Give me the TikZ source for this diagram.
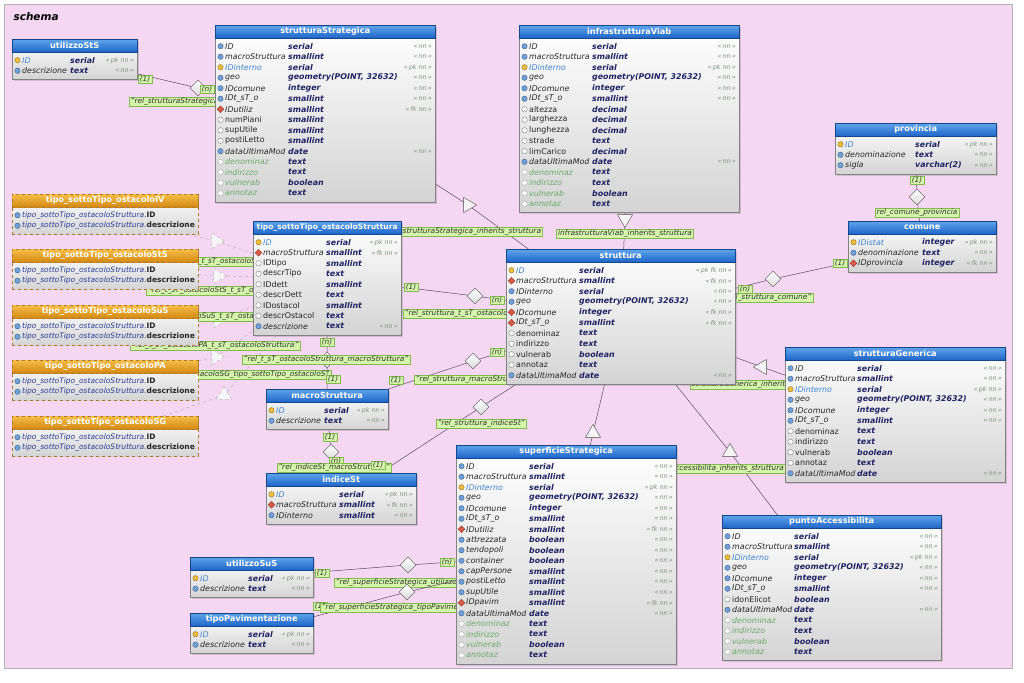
\documentclass[tikz,border=0pt]{standalone}
\usepackage{fontspec}
\setmainfont{DejaVu Sans}
\usetikzlibrary{positioning,shapes.geometric,shadows}
\definecolor{pinkbg}{RGB}{245,214,243}
\definecolor{hdrtop}{RGB}{95,165,235}
\definecolor{hdrbot}{RGB}{30,100,200}
\definecolor{viewtop}{RGB}{245,190,70}
\definecolor{viewbot}{RGB}{210,135,20}
\definecolor{viewline}{RGB}{170,120,50}
\definecolor{tabline}{RGB}{130,130,130}
\definecolor{bodybot}{RGB}{212,212,212}
\definecolor{labfill}{RGB}{212,245,170}
\definecolor{labline}{RGB}{130,185,80}
\definecolor{pkblue}{RGB}{60,130,210}
\definecolor{typnavy}{RGB}{30,35,100}
\definecolor{inhgreen}{RGB}{105,170,105}
\definecolor{cnsgray}{RGB}{125,145,125}
\definecolor{icoblue}{RGB}{110,160,220}
\definecolor{keyyel}{RGB}{240,190,60}
\definecolor{fkred}{RGB}{220,90,70}
\definecolor{relline}{RGB}{90,80,95}
\definecolor{vwblue}{RGB}{40,60,150}

\pgfdeclarelayer{back}
\pgfdeclarelayer{bg}
\pgfsetlayers{back,bg,main}

\newcommand{\tabfont}{\fontsize{7.9}{9}\selectfont}
% constraint texts
\newcommand{\cnsnn}{«\,nn\,»}
\newcommand{\cnspknn}{«\,pk nn\,»}
\newcommand{\cnsfknn}{«\,fk nn\,»}
\newcommand{\cnspkfknn}{«\,pk fk nn\,»}
\newcommand{\cnsno}{}
% table: name, x, y, width, rows, type column, title, fields
\newcommand{\dbtable}[8]{%
  \node[tabbody, minimum width=#4pt, minimum height={#5*10.5pt+19pt}, anchor=north west] (#1) at (#2,#3) {};
  \node[tabhead, minimum width=#4pt, anchor=north west] (#1-h) at (#2,#3) {#7};
  \foreach \kd/\nm/\ty/\cn [count=\i] in {#8} {
    \pgfmathsetmacro{\ry}{#3+16+(\i-0.5)*10.5}
    \node[ico-\kd] (#1-i\i) at ({#2+5.5},\ry) {};
    \node[fld-\kd, anchor=west] (#1-n\i) at ({#2+10},\ry) {\nm};
    \node[typ, anchor=west] (#1-t\i) at ({#2+#6},\ry) {\ty};
    \node[cns, anchor=east] (#1-c\i) at ({#2+#4-3},\ry) {\csname cns\cn\endcsname};
  }
}
% view: name, x, y, title
\newcommand{\dbview}[4]{%
  \node[viewbody, minimum width=186pt, minimum height=40pt, anchor=north west] (#1) at (#2,#3) {};
  \node[viewhead, minimum width=186pt, anchor=north west] (#1-h) at (#2,#3) {#4};
  \foreach \col [count=\i] in {ID,descrizione} {
    \pgfmathsetmacro{\ry}{#3+16+(\i-0.5)*10.5}
    \node[ico-nn] (#1-i\i) at ({#2+5.5},\ry) {};
    \node[fld, font=\fontsize{7.5}{9}\selectfont, anchor=west] (#1-n\i) at ({#2+10},\ry)
      {\textcolor{vwblue}{\itshape tipo\_sottoTipo\_ostacoloStruttura.}\textbf{\col}};
  }
}

\begin{document}
\begin{tikzpicture}[x=1pt, y=-1pt,
    tabbody/.style={draw=tabline, top color=white, bottom color=bodybot, inner sep=0pt,
      drop shadow={shadow xshift=2pt, shadow yshift=-2pt, opacity=0.3}},
    tabhead/.style={draw=hdrbot!70!black, top color=hdrtop, bottom color=hdrbot, inner sep=0pt,
      minimum height=13pt, text=white, font=\fontsize{8.2}{9}\selectfont\bfseries},
    viewbody/.style={draw=viewline, dashed, top color=white, bottom color=bodybot, inner sep=0pt},
    viewhead/.style={draw=viewline, dashed, top color=viewtop, bottom color=viewbot, inner sep=0pt,
      minimum height=13pt, text=white, font=\fontsize{8.2}{9}\selectfont\bfseries},
    icon/.style={circle, inner sep=0pt, minimum size=5.4pt, line width=0.4pt},
    ico-pk/.style={icon, fill=keyyel, draw=keyyel!60!black},
    ico-nn/.style={icon, fill=icoblue, draw=icoblue!60!black},
    ico-fk/.style={icon, diamond, minimum size=7pt, fill=fkred, draw=fkred!60!black},
    ico-op/.style={icon, fill=white, draw=gray},
    ico-in/.style={icon, fill=white, draw=gray!70},
    fld/.style={inner sep=0pt, font=\tabfont, text=black!85},
    fld-pk/.style={fld, font=\tabfont\itshape, text=pkblue},
    fld-nn/.style={fld, font=\tabfont\itshape},
    fld-fk/.style={fld, font=\tabfont\itshape},
    fld-op/.style={fld},
    fld-in/.style={fld, font=\tabfont\itshape, text=inhgreen},
    typ/.style={inner sep=0pt, font=\tabfont\bfseries\itshape, text=typnavy},
    cns/.style={inner sep=0pt, font=\fontsize{6.4}{8}\selectfont\itshape, text=cnsgray},
    rel/.style={draw=relline, line width=0.5pt},
    vrel/.style={draw=gray!60, dashed, line width=0.5pt},
    reldia/.style={diamond, draw=gray!60!black, top color=white, bottom color=gray!30,
      minimum size=16pt, inner sep=0pt},
    inh/.style={isosceles triangle, isosceles triangle apex angle=60, draw=gray!60!black,
      fill=gray!8, minimum height=13pt, inner sep=0pt},
    rlab/.style={draw=labline, fill=labfill, font=\fontsize{7.4}{8}\selectfont\itshape,
      text=black!80, inner xsep=1.5pt, inner ysep=1pt}
  ]
  \useasboundingbox (0,0) rectangle (1024,682);
  \begin{pgfonlayer}{back}
    \fill[pinkbg, draw=gray!60] (4,4) rectangle (1012,668);
  \end{pgfonlayer}
  \node[font=\fontsize{10.5}{12}\selectfont\bfseries\itshape, anchor=west] (schema) at (10,17) {schema};

  % tables
  \dbtable{utilizzoStS}{12}{39}{125}{2}{58}{utilizzoStS}{pk/ID/serial/pknn, nn/descrizione/text/nn}
  \dbtable{strutturaStrategica}{215}{25}{220}{15}{73}{strutturaStrategica}{
    nn/ID/serial/nn, nn/macroStruttura/smallint/nn, pk/IDinterno/serial/pknn,
    nn/geo/{geometry(POINT, 32632)}/nn, nn/IDcomune/integer/nn, nn/IDt\_sT\_o/smallint/nn,
    fk/IDutiliz/smallint/fknn, op/numPiani/smallint/no, op/supUtile/smallint/no,
    op/postiLetto/smallint/no, nn/dataUltimaMod/date/nn, in/denominaz/text/no,
    in/indirizzo/text/no, in/vulnerab/boolean/no, in/annotaz/text/no}
  \dbtable{infrastrutturaViab}{519}{25}{220}{16}{73}{infrastrutturaViab}{
    nn/ID/serial/nn, nn/macroStruttura/smallint/nn, pk/IDinterno/serial/pknn,
    nn/geo/{geometry(POINT, 32632)}/nn, nn/IDcomune/integer/nn, nn/IDt\_sT\_o/smallint/nn,
    op/altezza/decimal/no, op/larghezza/decimal/no, op/lunghezza/decimal/no,
    op/strade/text/no, op/limCarico/decimal/no, nn/dataUltimaMod/date/nn,
    in/denominaz/text/no, in/indirizzo/text/no, in/vulnerab/boolean/no, in/annotaz/text/no}
  \dbtable{provincia}{835}{123}{161}{3}{80}{provincia}{
    pk/ID/serial/pknn, nn/denominazione/text/nn, nn/sigla/varchar(2)/nn}
  \dbtable{comune}{848}{221}{148}{3}{74}{comune}{
    pk/IDistat/integer/pknn, nn/denominazione/text/nn, fk/IDprovincia/integer/fknn}
  \dbtable{tipoOstacolo}{253}{221}{148}{9}{73}{\fontsize{7.6}{9}\selectfont tipo\_sottoTipo\_ostacoloStruttura}{
    pk/ID/serial/pknn, fk/macroStruttura/smallint/fknn, op/IDtipo/smallint/no,
    op/descrTipo/text/no, op/IDdett/smallint/no, op/descrDett/text/no,
    op/IDostacol/smallint/no, op/descrOstacol/text/no, nn/descrizione/text/nn}
  \dbtable{struttura}{506}{249}{229}{11}{73}{struttura}{
    pk/ID/serial/pkfknn, fk/macroStruttura/smallint/fknn, nn/IDinterno/serial/nn,
    nn/geo/{geometry(POINT, 32632)}/nn, fk/IDcomune/integer/fknn, fk/IDt\_sT\_o/smallint/fknn,
    op/denominaz/text/no, op/indirizzo/text/no, op/vulnerab/boolean/no,
    op/annotaz/text/no, nn/dataUltimaMod/date/nn}
  \dbtable{strutturaGenerica}{785}{347}{220}{11}{72}{strutturaGenerica}{
    nn/ID/serial/nn, nn/macroStruttura/smallint/nn, pk/IDinterno/serial/pknn,
    nn/geo/{geometry(POINT, 32632)}/nn, nn/IDcomune/integer/nn, nn/IDt\_sT\_o/smallint/nn,
    op/denominaz/text/no, op/indirizzo/text/no, op/vulnerab/boolean/no,
    op/annotaz/text/no, nn/dataUltimaMod/date/nn}
  \dbtable{macroStruttura}{266}{389}{122}{2}{58}{macroStruttura}{
    pk/ID/serial/pknn, nn/descrizione/text/nn}
  \dbtable{indiceSt}{266}{473}{150}{3}{73}{indiceSt}{
    pk/ID/serial/pknn, fk/macroStruttura/smallint/fknn, nn/IDinterno/smallint/nn}
  \dbtable{superficieStrategica}{456}{445}{220}{19}{73}{superficieStrategica}{
    nn/ID/serial/nn, nn/macroStruttura/smallint/nn, pk/IDinterno/serial/pknn,
    nn/geo/{geometry(POINT, 32632)}/nn, nn/IDcomune/integer/nn, nn/IDt\_sT\_o/smallint/nn,
    fk/IDutiliz/smallint/fknn, nn/attrezzata/boolean/nn, nn/tendopoli/boolean/nn,
    nn/container/boolean/nn, nn/capPersone/smallint/nn, nn/postiLetto/smallint/nn,
    nn/supUtile/smallint/nn, fk/IDpavim/smallint/fknn, nn/dataUltimaMod/date/nn,
    in/denominaz/text/no, in/indirizzo/text/no, in/vulnerab/boolean/no, in/annotaz/text/no}
  \dbtable{puntoAccessibilita}{722}{515}{219}{12}{72}{puntoAccessibilita}{
    nn/ID/serial/nn, nn/macroStruttura/smallint/nn, pk/IDinterno/serial/pknn,
    nn/geo/{geometry(POINT, 32632)}/nn, nn/IDcomune/integer/nn, nn/IDt\_sT\_o/smallint/nn,
    op/idonElicot/boolean/no, nn/dataUltimaMod/date/nn, in/denominaz/text/no,
    in/indirizzo/text/no, in/vulnerab/boolean/no, in/annotaz/text/no}
  \dbtable{utilizzoSuS}{190}{557}{123}{2}{58}{utilizzoSuS}{pk/ID/serial/pknn, nn/descrizione/text/nn}
  \dbtable{tipoPavimentazione}{190}{613}{123}{2}{58}{tipoPavimentazione}{pk/ID/serial/pknn, nn/descrizione/text/nn}

  % views
  \dbview{vIV}{12}{194}{tipo\_sottoTipo\_ostacoloIV}
  \dbview{vStS}{12}{249}{tipo\_sottoTipo\_ostacoloStS}
  \dbview{vSuS}{12}{305}{tipo\_sottoTipo\_ostacoloSuS}
  \dbview{vPA}{12}{360}{tipo\_sottoTipo\_ostacoloPA}
  \dbview{vSG}{12}{416}{tipo\_sottoTipo\_ostacoloSG}

  \begin{pgfonlayer}{bg}
    % views -- tipo_sottoTipo_ostacoloStruttura
    \node[inh, dashed, draw=gray!60, shape border rotate=-18] (tvIV) at (216,241) {};
    \draw[vrel] (vIV) -- (tvIV) -- (tipoOstacolo);
    \node[rlab, anchor=west] (lvIV) at (122,262) {"rel\_t\_sT\_ostacoloIV\_t\_sT\_ostacoloStruttura"};
    \node[inh, dashed, draw=gray!60, shape border rotate=0] (tvStS) at (218,276) {};
    \draw[vrel] (vStS) -- (tvStS) -- (tipoOstacolo);
    \node[rlab, anchor=west] (lvStS) at (146,291) {"rel\_t\_sT\_ostacoloStS\_t\_sT\_ostacoloStruttura"};
    \node[inh, dashed, draw=gray!60, shape border rotate=20] (tvSuS) at (218,320) {};
    \draw[vrel] (vSuS) -- (tvSuS) -- (tipoOstacolo);
    \node[rlab, anchor=west] (lvSuS) at (133,317) {"rel\_t\_sT\_ostacoloSuS\_t\_sT\_ostacoloStruttura"};
    \node[inh, dashed, draw=gray!60, shape border rotate=40] (tvPA) at (216,357) {};
    \draw[vrel] (vPA) -- (tvPA) -- (tipoOstacolo);
    \node[rlab, anchor=west] (lvPA) at (130,346) {"rel\_t\_sT\_ostacoloPA\_t\_sT\_ostacoloStruttura"};
    \node[inh, dashed, draw=gray!60, shape border rotate=52] (tvSG) at (224,395) {};
    \draw[vrel] (vSG) -- (tvSG) -- (tipoOstacolo);
    \node[rlab, anchor=east] (lvSG) at (331,375) {"rel\_t\_sT\_ostacoloSG\_tipo\_sottoTipo\_ostacoloS"};

    % utilizzoStS -- strutturaStrategica
    \node[reldia] (dUtStS) at (198,88) {};
    \draw[rel] (utilizzoStS) -- (dUtStS) -- (strutturaStrategica);
    \node[rlab, anchor=west] (lUtStS) at (129,102) {"rel\_strutturaStrategica\_utilizzoStS"};
    \node[rlab] (c1UtStS) at (145,79) {(1)};
    \node[rlab] (cnUtStS) at (207,89) {(n)};

    % inheritance
    \node[inh, shape border rotate=-36] (tSS) at (468,205) {};
    \draw[rel] (strutturaStrategica) -- (tSS) -- (struttura);
    \node[rlab, anchor=west] (lSS) at (401,232) {strutturaStrategica\_inherits\_struttura};
    \node[inh, shape border rotate=-90] (tIV) at (625,219) {};
    \draw[rel] (infrastrutturaViab) -- (tIV) -- (struttura);
    \node[rlab] (lIV) at (625,234) {infrastrutturaViab\_inherits\_struttura};
    \node[inh, shape border rotate=160] (tGe) at (762,367) {};
    \draw[rel] (struttura) -- (tGe) -- (strutturaGenerica);
    \node[rlab, anchor=west] (lGe) at (690,385) {strutturaGenerica\_inherits\_struttura};
    \node[inh, shape border rotate=129] (tPA) at (730,452) {};
    \draw[rel] (struttura) -- (tPA) -- (puntoAccessibilita);
    \node[rlab, anchor=west] (lPA) at (647,469) {puntoAccessibilita\_inherits\_struttura};
    \node[inh, shape border rotate=77] (tSu) at (593,433) {};
    \draw[rel] (struttura) -- (tSu) -- (superficieStrategica);

    % provincia -- comune
    \node[reldia] (dPrCo) at (917,197) {};
    \draw[rel] (provincia) -- (dPrCo) -- (comune);
    \node[rlab] (c1PrCo) at (917,180) {(1)};
    \node[rlab] (lPrCo) at (917,213) {rel\_comune\_provincia};

    % comune -- struttura
    \node[reldia] (dCoSt) at (773,279) {};
    \draw[rel] (comune) -- (dCoSt) -- (struttura);
    \node[rlab] (c1CoSt) at (840,263) {(1)};
    \node[rlab] (cnCoSt) at (745,289) {(n)};
    \node[rlab, anchor=east] (lCoSt) at (813,298) {"rel\_struttura\_comune"};

    % tipo_sottoTipo_ostacoloStruttura -- struttura
    \node[reldia] (dTiSt) at (475,296) {};
    \draw[rel] (tipoOstacolo) -- (dTiSt) -- (struttura);
    \node[rlab] (c1TiSt) at (411,287) {(1)};
    \node[rlab] (cnTiSt) at (497,300) {(n)};
    \node[rlab, anchor=west] (lTiSt) at (403,314) {"rel\_struttura\_t\_sT\_ostacoloStruttura"};

    % tipo_sottoTipo_ostacoloStruttura -- macroStruttura
    \node[reldia] (dTiMa) at (327,360) {};
    \draw[rel] (tipoOstacolo) -- (dTiMa) -- (macroStruttura);
    \node[rlab] (cnTiMa) at (327,342) {(n)};
    \node[rlab] (lTiMa) at (326,360) {"rel\_t\_sT\_ostacoloStruttura\_macroStruttura"};
    \node[rlab] (c1TiMa) at (333,379) {(1)};

    % struttura -- macroStruttura
    \node[reldia] (dStMa) at (473,361) {};
    \draw[rel] (struttura) -- (dStMa) -- (macroStruttura);
    \node[rlab] (cnStMa) at (497,352) {(n)};
    \node[rlab] (c1StMa) at (396,380) {(1)};
    \node[rlab, anchor=west] (lStMa) at (414,380) {"rel\_struttura\_macroStruttura"};

    % struttura -- indiceSt
    \node[reldia] (dStIn) at (481,407) {};
    \draw[rel] (struttura) -- (dStIn) -- (indiceSt);
    \node[rlab] (lStIn) at (481,424) {"rel\_struttura\_indiceSt"};

    % macroStruttura -- indiceSt
    \node[reldia] (dMaIn) at (331,452) {};
    \draw[rel] (macroStruttura) -- (dMaIn) -- (indiceSt);
    \node[rlab] (c1MaIn) at (330,437) {(1)};
    \node[rlab] (cnMaIn) at (336,461) {(n)};
    \node[rlab] (lMaIn) at (334,468) {"rel\_indiceSt\_macroStruttura"};
    \node[rlab] (c1StIn) at (378,465) {(1)};

    % utilizzoSuS -- superficieStrategica
    \node[reldia] (dUtSu) at (408,565) {};
    \draw[rel] (utilizzoSuS) -- (dUtSu) -- (superficieStrategica);
    \node[rlab] (c1UtSu) at (322,573) {(1)};
    \node[rlab] (cnUtSu) at (447,562) {(n)};
    \node[rlab, anchor=west] (lUtSu) at (334,583) {"rel\_superficieStrategica\_utilizzoSuS"};

    % tipoPavimentazione -- superficieStrategica
    \node[reldia] (dPaSu) at (407,592) {};
    \draw[rel] (tipoPavimentazione) -- (dPaSu) -- (superficieStrategica);
    \node[rlab] (c1PaSu) at (320,606) {(1)};
    \node[rlab, anchor=west] (lPaSu) at (320,608) {"rel\_superficieStrategica\_tipoPavimentazione"};
  \end{pgfonlayer}
\end{tikzpicture}
\end{document}
